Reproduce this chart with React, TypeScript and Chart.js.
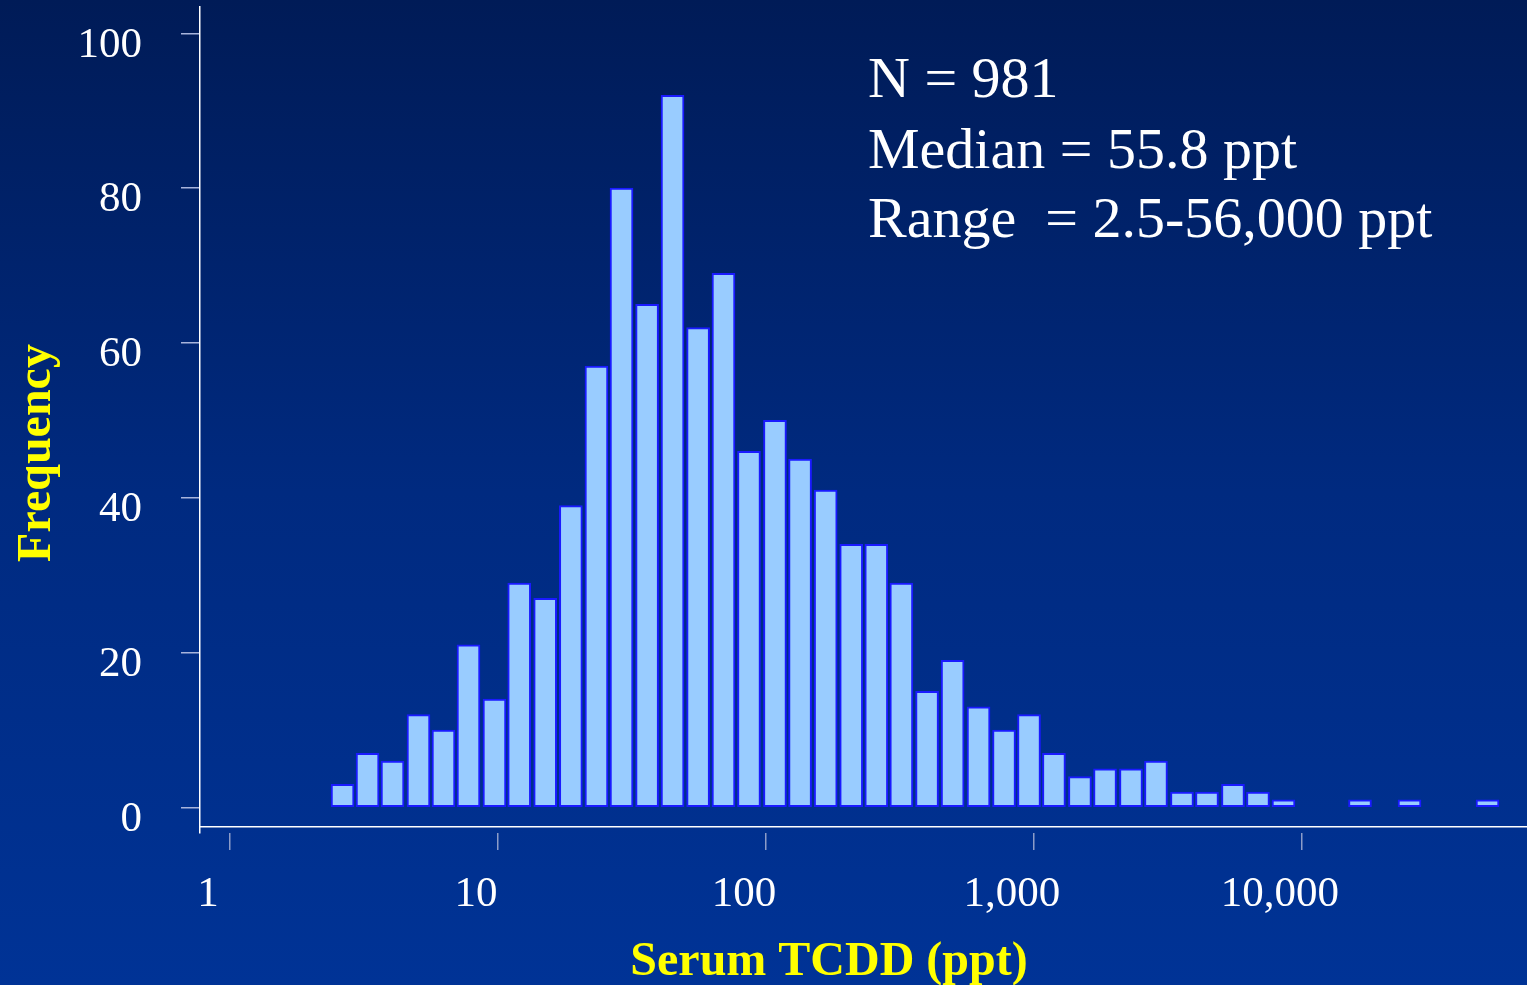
import React, { useEffect, useRef } from "react";
import { Chart, registerables } from "chart.js";

Chart.register(...registerables);

// Histogram bins (geometric bin centres, ppt) and counts
const binCenters = [
  2.63, 3.26, 4.04, 5.05, 6.26, 7.76, 9.7, 12.0, 15.0, 18.7,
  23.3, 28.9, 36.0, 44.8, 55.8, 69.4, 86.4, 108, 134, 167,
  208, 258, 320, 399, 497, 621, 773, 958, 1187, 1484,
  1841, 2301, 2852, 3566, 4421, 5527, 6851, 8531, 16460, 25190,
  49230,
];
const frequencies = [
  3, 7, 6, 12, 10, 21, 14, 29, 27, 39,
  57, 80, 65, 92, 62, 69, 46, 50, 45, 41,
  34, 34, 29, 15, 19, 13, 10, 12, 7, 4,
  5, 5, 6, 2, 2, 3, 2, 1, 1, 1,
  1,
];
const xTickValues = [1, 10, 100, 1000, 10000];
const yTickValues = [0, 20, 40, 60, 80, 100];
const annotationLines = ["N = 981", "Median = 55.8 ppt", "Range  = 2.5-56,000 ppt"];
const xTitle = "Serum TCDD (ppt)";
const yTitle = "Frequency";

const SERIF = '"Liberation Serif", "Times New Roman", Times, serif';

export default function App() {
  const ref = useRef<HTMLCanvasElement>(null);

  useEffect(() => {
    document.body.style.margin = "0";
    const canvas = ref.current;
    if (!canvas) return;

    const background = {
      id: "bg",
      beforeDraw(chart: any) {
        const { ctx, width, height } = chart;
        const g = ctx.createLinearGradient(0, 0, 0, height);
        g.addColorStop(0, "#001b57");
        g.addColorStop(0.5, "#002a80");
        g.addColorStop(1, "#003396");
        ctx.save();
        ctx.fillStyle = g;
        ctx.fillRect(0, 0, width, height);
        ctx.restore();
      },
    };

    const decorations = {
      id: "decorations",
      afterDraw(chart: any) {
        const { ctx, chartArea } = chart;
        ctx.save();
        // detached horizontal axis line
        const yLine = chartArea.bottom - 6.3;
        ctx.strokeStyle = "#ffffff";
        ctx.lineWidth = 1.5;
        ctx.beginPath();
        ctx.moveTo(chartArea.left, yLine);
        ctx.lineTo(chartArea.right, yLine);
        ctx.stroke();

        // annotation block
        ctx.fillStyle = "#ffffff";
        ctx.font = `58px ${SERIF}`;
        ctx.textAlign = "left";
        ctx.textBaseline = "alphabetic";
        const baselines = [97, 168, 237];
        annotationLines.forEach((t, i) => ctx.fillText(t, 868, baselines[i]));

        // axis titles
        ctx.fillStyle = "#ffff00";
        ctx.font = `bold 48px ${SERIF}`;
        ctx.textAlign = "center";
        ctx.fillText(xTitle, 829, 975);

        ctx.translate(50, 453);
        ctx.rotate(-Math.PI / 2);
        ctx.font = `bold 48px ${SERIF}`;
        ctx.fillText(yTitle, 0, 0);
        ctx.restore();
      },
    };

    const chart = new Chart(canvas, {
      type: "bar",
      data: {
        datasets: [
          {
            data: binCenters.map((x, i) => ({ x, y: frequencies[i] })),
            backgroundColor: "#99ccff",
            borderColor: "#1a1aff",
            borderWidth: 2,
            borderSkipped: false,
            barThickness: 23,
          } as any,
        ],
      },
      options: {
        responsive: false,
        devicePixelRatio: 1,
        animation: false,
        layout: { padding: { top: 7, left: 0, right: 0, bottom: 0 } },
        plugins: {
          legend: { display: false },
          tooltip: { enabled: false },
        },
        scales: {
          x: {
            type: "logarithmic",
            min: 0.7727,
            max: 69120,
            offset: false,
            afterBuildTicks: (s: any) => {
              s.ticks = xTickValues.map((v) => ({ value: v }));
            },
            afterFit: (s: any) => {
              s.height = 152;
              s.paddingLeft = 0;
              s.paddingRight = 0;
            },
            grid: {
              offset: false,
              drawOnChartArea: false,
              drawTicks: true,
              tickLength: 17,
              color: "#8c9cc8",
              lineWidth: 1.5,
            },
            border: { display: false },
            ticks: {
              color: "#ffffff",
              font: { family: SERIF, size: 43 },
              padding: 19,
              labelOffset: -22,
              maxRotation: 0,
              minRotation: 0,
              autoSkip: false,
              callback: (v: any) => Number(v).toLocaleString("en-US"),
            },
          },
          y: {
            type: "linear",
            min: -3.3,
            max: 103.4,
            afterBuildTicks: (s: any) => {
              s.ticks = yTickValues.map((v) => ({ value: v }));
            },
            afterFit: (s: any) => {
              s.width = 200;
              s.paddingTop = 0;
              s.paddingBottom = 0;
            },
            grid: {
              drawOnChartArea: false,
              drawTicks: true,
              tickLength: 19,
              color: "#a8b4dc",
              lineWidth: 1.5,
            },
            border: { display: true, color: "#ffffff", width: 1.5 },
            ticks: {
              color: "#ffffff",
              font: { family: SERIF, size: 43 },
              padding: 39,
              labelOffset: 12,
              autoSkip: false,
            },
          },
        },
      },
      plugins: [background, decorations],
    } as any);

    return () => chart.destroy();
  }, []);

  return (
    <div style={{ width: 1527, height: 985 }}>
      <canvas ref={ref} width={1527} height={985} style={{ display: "block" }} />
    </div>
  );
}
